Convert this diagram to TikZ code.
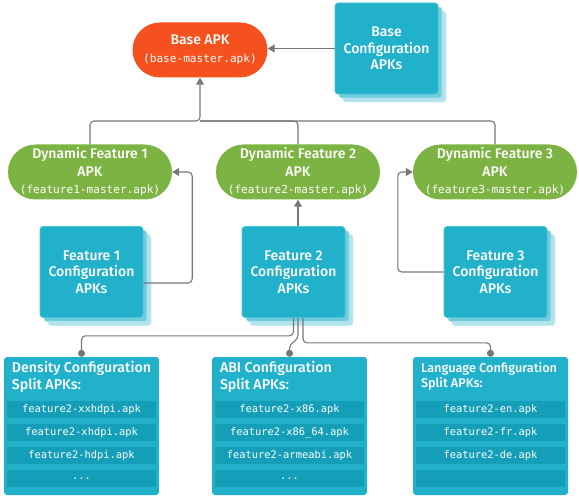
\documentclass[tikz,border=0pt]{standalone}
\usepackage{fontspec}
\setmainfont{Fira Sans Medium}
\setmonofont{DejaVu Sans Mono}
\usetikzlibrary{arrows.meta,calc}
\definecolor{apkorange}{HTML}{F4511E}
\definecolor{apkgreen}{HTML}{7CB342}
\definecolor{cardteal}{HTML}{22B1CA}
\definecolor{cardedge}{HTML}{4CC4D8}
\definecolor{cardmid}{HTML}{6FCCDC}
\definecolor{cardback}{HTML}{B0E3EC}
\definecolor{rowteal}{HTML}{149EB7}
\definecolor{linegrey}{HTML}{777777}
\newcommand{\ellip}{...}
% stacked configuration cards: name, position, text
\newcommand{\cfgstack}[3]{%
  \node[card,fill=cardback,draw=cardback!70!white] (#1-b) at ($#2+(8,8)$) {};
  \node[card,fill=cardmid,draw=cardback] (#1-m) at ($#2+(4,4)$) {};
  \node[card] (#1) at #2 {#3};}

\begin{document}
\begin{tikzpicture}[x=1pt,y=-1pt,>=Latex,
 pill/.style={rectangle,rounded corners=27.5pt,minimum height=55pt,inner sep=0pt,
   text=white,align=center,font=\fontsize{14}{17.5}\selectfont},
 card/.style={rectangle,rounded corners=3pt,minimum width=103pt,minimum height=91pt,
   fill=cardteal,draw=cardedge,line width=0.6pt,text=white,align=center,
   font=\fontsize{14}{16.5}\selectfont},
 splitbox/.style={rectangle,rounded corners=3pt,minimum width=155pt,minimum height=138pt,
   fill=cardteal,inner sep=0pt},
 head/.style={anchor=north west,inner sep=0pt,text=white,align=left,
   font=\fontsize{14.2}{17}\selectfont},
 apkrow/.style={rectangle,minimum width=149pt,minimum height=17pt,inner sep=0pt,
   fill=rowteal,text=white,font=\ttfamily\fontsize{10.4}{12}\selectfont},
 ln/.style={draw=linegrey,line width=1.1pt,rounded corners=4pt},
 a/.style={ln,-{Triangle[length=7pt,width=8pt]}},
 dot/.style={ln,-{Circle[length=7pt]}}]
\useasboundingbox (0,0) rectangle (579,500);
% top level
\node[pill,fill=apkorange,minimum width=135pt] (base) at (200,50)
  {Base APK\\{\ttfamily\fontsize{11.1}{13}\selectfont(base-master.apk)}};
\cfgstack{bcfg}{(386.5,48.5)}{Base\\Configuration\\APKs}
\draw[a] (bcfg.west) -- (bcfg.west -| base.east);
% dynamic features
\node[pill,fill=apkgreen,minimum width=164pt] (f1) at (90,172)
  {Dynamic Feature 1\\APK\\{\ttfamily\fontsize{11.1}{13}\selectfont(feature1-master.apk)}};
\node[pill,fill=apkgreen,minimum width=164pt] (f2) at (298,172)
  {Dynamic Feature 2\\APK\\{\ttfamily\fontsize{11.1}{13}\selectfont(feature2-master.apk)}};
\node[pill,fill=apkgreen,minimum width=164pt] (f3) at (495,172)
  {Dynamic Feature 3\\APK\\{\ttfamily\fontsize{11.1}{13}\selectfont(feature3-master.apk)}};
\coordinate (j) at (200,121);
\draw[a] (f1.north) |- (j) -- (base.south);
\draw[ln] (f3.north) |- (j);
\draw[ln] (f2.north) |- (j);
% feature configuration APKs
\cfgstack{c1}{(91.5,272)}{Feature 1\\Configuration\\APKs}
\cfgstack{c2}{(293.5,272)}{Feature 2\\Configuration\\APKs}
\cfgstack{c3}{(495.5,272)}{Feature 3\\Configuration\\APKs}
\draw[a] ($(c1.east)+(0,11)$) -| ($(f1.east)+(20,0)$) -- (f1.east);
\draw[a] (c2.north -| f2.south) -- (f2.south);
\draw[a] (c3.west) -| ($(f3.west)+(-15,0)$) -- (f3.west);
% split APKs
\node[splitbox] (d) at (81.5,426) {};
\node[splitbox] (abi) at (289.5,426) {};
\node[splitbox] (l) at (490.5,426) {};
\node[head] (dh) at ($(d.north west)+(8,4)$) {Density Configuration\\Split APKs:};
\node[head] (ah) at ($(abi.north west)+(8,4)$) {ABI Configuration\\Split APKs:};
\node[head,font=\fontsize{12.7}{15.5}\selectfont] (lh) at ($(l.north west)+(8,5)$)
  {Language Configuration\\Split APKs:};
\foreach \t [count=\i] in {feature2-xxhdpi.apk,feature2-xhdpi.apk,feature2-hdpi.apk,\ellip}
  \node[apkrow] (d-\i) at ($(d.north)+(0,30+23*\i)$) {\t};
\foreach \t [count=\i] in {feature2-x86.apk,feature2-x86\_64.apk,feature2-armeabi.apk,\ellip}
  \node[apkrow] (abi-\i) at ($(abi.north)+(0,30+23*\i)$) {\t};
\foreach \t [count=\i] in {feature2-en.apk,feature2-fr.apk,feature2-de.apk,{}}
  \node[apkrow] (l-\i) at ($(l.north)+(0,30+23*\i)$) {\t};
\draw[dot] (c2.south) |- ($(d.north)+(0,-21)$) -- (d.north);
\draw[dot] ($(c2.south)+(4.5,0)$) -- ++(0,21) -- ($(abi.north)+(0,-12)$) -- (abi.north);
\draw[dot] ($(c2.south)+(9.5,0)$) |- ($(l.north)+(0,-14)$) -- (l.north);
\end{tikzpicture}
\end{document}
